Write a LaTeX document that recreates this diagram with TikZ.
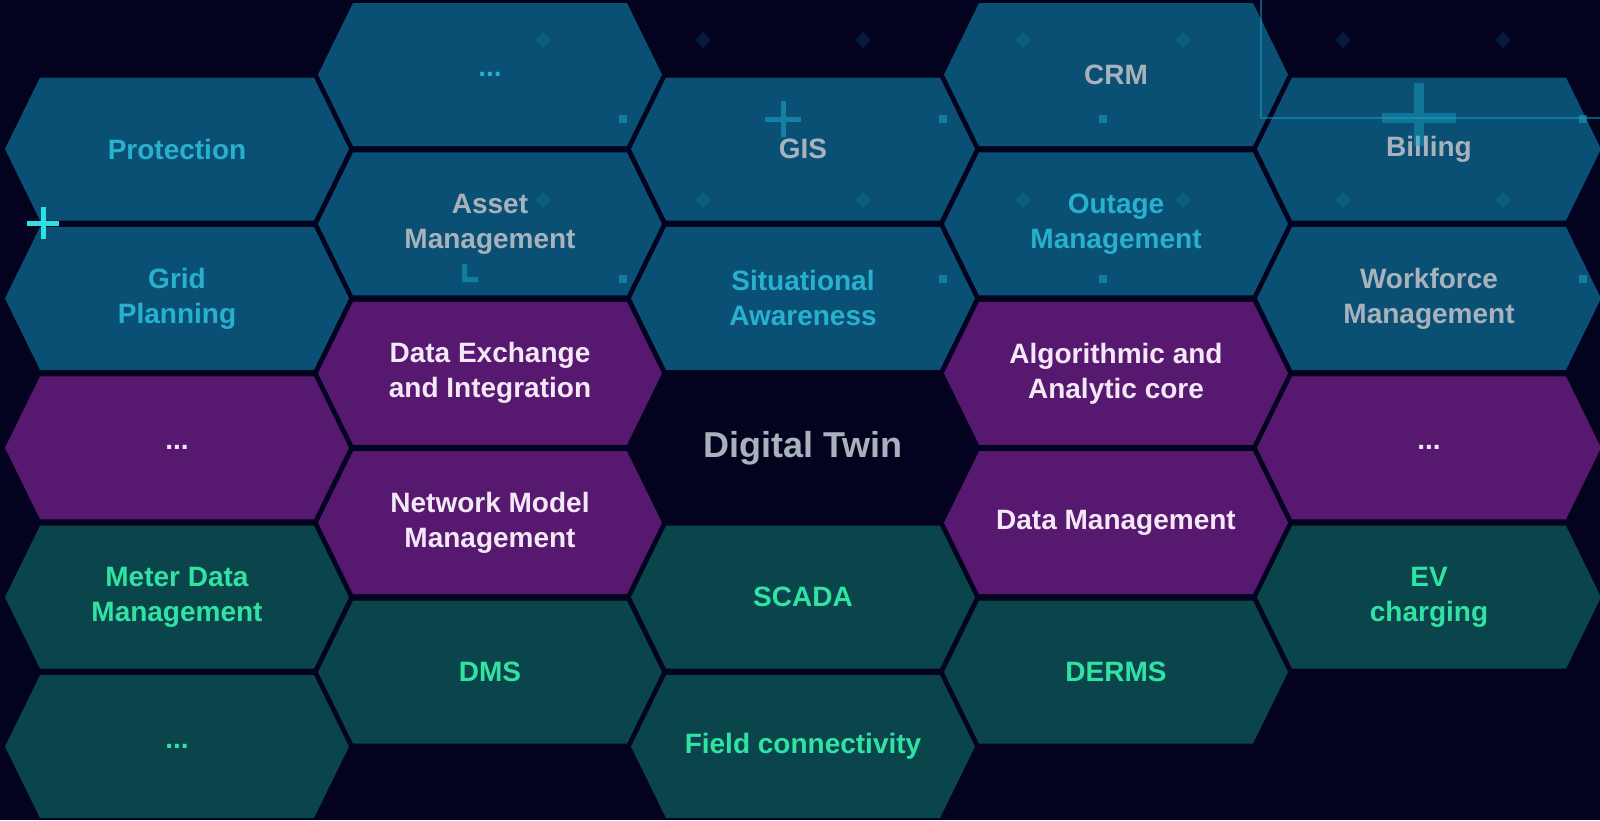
\documentclass[tikz,border=0pt]{standalone}
\usepackage{fontspec}
\setmainfont{Liberation Sans}
\usetikzlibrary{positioning,shapes.symbols}
\definecolor{bgnavy}{HTML}{03021F}
\definecolor{cellblue}{HTML}{0A5074}
\definecolor{cellpurple}{HTML}{571870}
\definecolor{cellteal}{HTML}{0A454C}
\definecolor{txtcyan}{HTML}{28B1CF}
\definecolor{txtgray}{HTML}{A8B2BC}
\definecolor{txtgreen}{HTML}{30E3A2}
\definecolor{txtwhite}{HTML}{F4E8F6}
\definecolor{decocyan}{HTML}{1AA3C4}
\definecolor{pluscyan}{HTML}{30E0E0}
\tikzset{
  hexcell/.style={signal, signal to=east and west, signal pointer angle=127.8,
                  minimum width=344pt, minimum height=143pt, inner sep=0pt,
                  font=\fontsize{28}{35}\selectfont\bfseries, align=center},
  bluecell/.style={fill=cellblue},
  purplecell/.style={fill=cellpurple, text=txtwhite},
  tealcell/.style={fill=cellteal, text=txtgreen},
  cyantext/.style={text=txtcyan},
  graytext/.style={text=txtgray},
  twintext/.style={text=txtgray, font=\fontsize{36}{40}\selectfont\bfseries},
  mark diamond/.style={fill=decocyan, opacity=0.16},
  mark dot/.style={fill=decocyan, opacity=0.55},
}

\begin{document}
\begin{tikzpicture}[x=1pt, y=-1pt, node distance=6pt]
  \fill[bgnavy] (0,0) rectangle (1600,820);
  \useasboundingbox (0,0) rectangle (1600,820);

  % column 1
  \node[hexcell, bluecell, cyantext] (protection) at (177,149) {Protection};
  \node[hexcell, bluecell, cyantext] (gridplan) [below=of protection] {Grid\\Planning};
  \node[hexcell, purplecell] (more1) [below=of gridplan] {...};
  \node[hexcell, tealcell] (meterdata) [below=of more1] {Meter Data\\Management};
  \node[hexcell, tealcell] (more2) [below=of meterdata] {...};

  % column 2
  \node[hexcell, bluecell, cyantext] (more3) at (490,74.5) {...};
  \node[hexcell, bluecell, graytext] (asset) [below=of more3] {Asset\\Management};
  \node[hexcell, purplecell] (dataexch) [below=of asset] {Data Exchange\\and Integration};
  \node[hexcell, purplecell] (netmodel) [below=of dataexch] {Network Model\\Management};
  \node[hexcell, tealcell] (dms) [below=of netmodel] {DMS};

  % column 3
  \node[hexcell, bluecell, graytext] (gis) at (803,149) {GIS};
  \node[hexcell, bluecell, cyantext] (situational) [below=of gis] {Situational\\Awareness};
  \node[hexcell, twintext] (twin) [below=of situational] {Digital Twin};
  \node[hexcell, tealcell] (scada) [below=of twin] {SCADA};
  \node[hexcell, tealcell] (fieldconn) [below=of scada] {Field connectivity};

  % column 4
  \node[hexcell, bluecell, graytext] (crm) at (1116,74.5) {CRM};
  \node[hexcell, bluecell, cyantext] (outage) [below=of crm] {Outage\\Management};
  \node[hexcell, purplecell] (algocore) [below=of outage] {Algorithmic and\\Analytic core};
  \node[hexcell, purplecell] (datamgmt) [below=of algocore] {Data Management};
  \node[hexcell, tealcell] (derms) [below=of datamgmt] {DERMS};

  % column 5
  \node[hexcell, bluecell, graytext] (billing) at (1429,149) {Billing};
  \node[hexcell, bluecell, graytext] (workforce) [below=of billing] {Workforce\\Management};
  \node[hexcell, purplecell] (more4) [below=of workforce] {...};
  \node[hexcell, tealcell] (evcharge) [below=of more4] {EV\\charging};

  % faint background marks
  \foreach \dx in {543,703,...,1503}
    \foreach \dy in {40,200}
      \fill[mark diamond] (\dx,\dy) +(0,-8) -- +(8,0) -- +(0,8) -- +(-8,0) -- cycle;
  \foreach \dx in {623,943,1103,1583}
    \foreach \dy in {119,279}
      \fill[mark dot] (\dx,\dy) +(-4,-4) rectangle +(4,4);
  \fill[mark dot] (462,264) rectangle (467,282) (462,277) rectangle (478,282);
  \draw[decocyan, opacity=0.5, line width=2pt] (1261,0) -- (1261,118) -- (1600,118);
  \draw[decocyan, opacity=0.45, line width=10pt] (1382,118) -- (1456,118) (1419,83) -- (1419,146);
  \draw[decocyan, opacity=0.6, line width=5pt] (765,119) -- (801,119) (783,101) -- (783,137);
  \draw[pluscyan, line width=5pt] (27,223) -- (59,223) (43,207) -- (43,239);
\end{tikzpicture}
\end{document}
